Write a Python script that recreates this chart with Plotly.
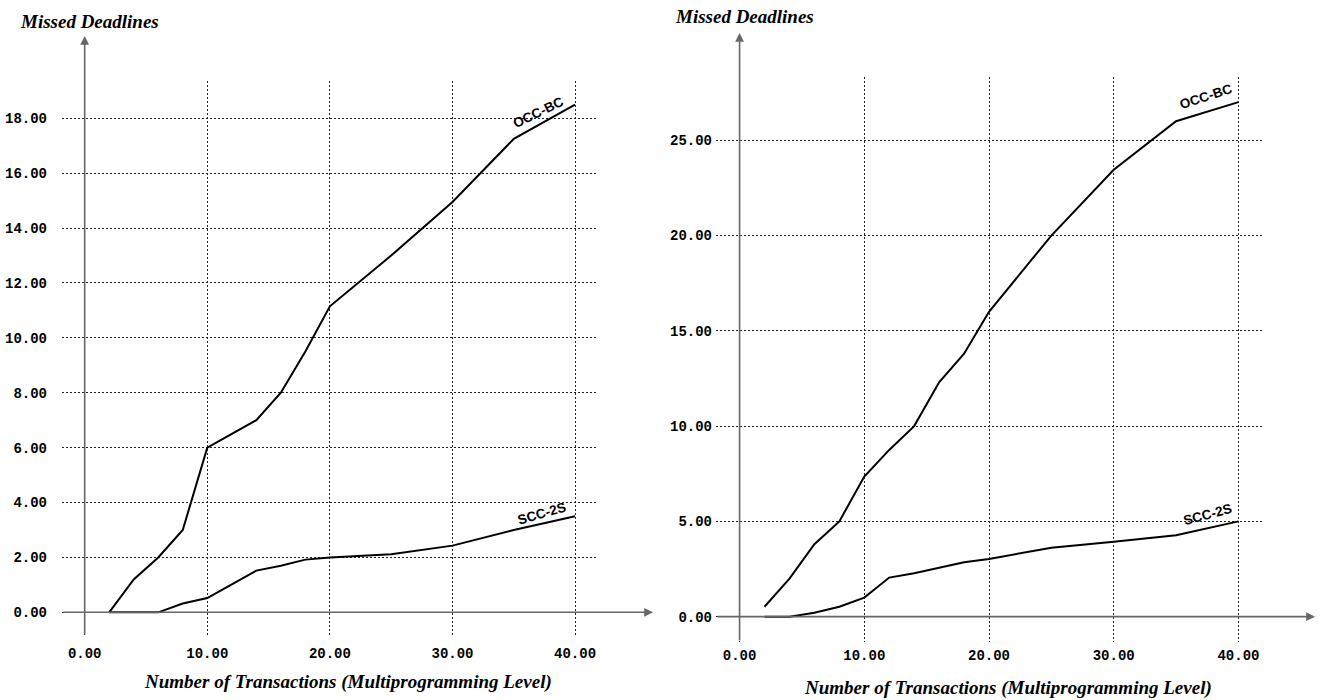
import plotly.graph_objects as go

# ---------------- data ----------------
mpl = [2, 4, 6, 8, 10, 12, 14, 16, 18, 20, 25, 30, 35, 40]

left_occ_bc = [0.0, 1.2, 2.0, 3.0, 6.0, 6.5, 7.0, 8.0, 9.5, 11.15, 13.0, 14.95, 17.25, 18.5]
left_scc_2s = [0.0, 0.0, 0.0, 0.32, 0.52, 1.02, 1.52, 1.7, 1.92, 2.0, 2.12, 2.43, 3.0, 3.5]

right_occ_bc = [0.52, 2.0, 3.8, 5.0, 7.35, 8.75, 10.0, 12.3, 13.8, 16.0, 20.0, 23.45, 26.0, 27.0]
right_scc_2s = [0.0, 0.0, 0.2, 0.52, 1.0, 2.05, 2.28, 2.55, 2.85, 3.03, 3.62, 3.93, 4.27, 5.0]

x_ticks = [0, 10, 20, 30, 40]
left_y_ticks = [0, 2, 4, 6, 8, 10, 12, 14, 16, 18]
right_y_ticks = [0, 5, 10, 15, 20, 25]

y_title = "Missed Deadlines"
x_title = "Number of Transactions (Multiprogramming Level)"

W, H = 1321, 700

fig = go.Figure()

line_style = dict(color="black", width=2)
fig.add_trace(go.Scatter(x=mpl, y=left_occ_bc, mode="lines", line=line_style,
                         xaxis="x", yaxis="y", showlegend=False, hoverinfo="skip"))
fig.add_trace(go.Scatter(x=mpl, y=left_scc_2s, mode="lines", line=line_style,
                         xaxis="x", yaxis="y", showlegend=False, hoverinfo="skip"))
fig.add_trace(go.Scatter(x=mpl, y=right_occ_bc, mode="lines", line=line_style,
                         xaxis="x2", yaxis="y2", showlegend=False, hoverinfo="skip"))
fig.add_trace(go.Scatter(x=mpl, y=right_scc_2s, mode="lines", line=line_style,
                         xaxis="x2", yaxis="y2", showlegend=False, hoverinfo="skip"))

tick_font = dict(family="Liberation Mono", size=14, color="black", weight="bold")
grid = dict(showgrid=True, gridcolor="#222222", gridwidth=1, griddash="2px,2px",
            zeroline=False, showline=False, ticks="", tickfont=tick_font,
            tickformat=".2f", fixedrange=True)


def px_x(p):
    return p / W


def px_y(p):
    return 1 - p / H


fig.update_layout(
    width=W, height=H,
    margin=dict(l=0, r=0, t=0, b=0),
    paper_bgcolor="white", plot_bgcolor="white",
    xaxis=dict(domain=[px_x(62), px_x(598)], range=[-1.85, 41.87],
               tickvals=x_ticks, anchor="y", ticklabelstandoff=7, **grid),
    yaxis=dict(domain=[px_y(636), px_y(81)], range=[-0.863, 19.36],
               tickvals=left_y_ticks, anchor="x", ticklabelstandoff=14, **grid),
    xaxis2=dict(domain=[px_x(716), px_x(1262)], range=[-1.89, 41.89],
                tickvals=x_ticks, anchor="y2", ticklabelstandoff=3, **grid),
    yaxis2=dict(domain=[px_y(642), px_y(77)], range=[-1.33, 28.32],
                tickvals=right_y_ticks, anchor="x2", ticklabelstandoff=3, **grid),
)

annotations = []
axis_col = "#666666"
# axis arrows (left chart)
annotations.append(dict(x=0, xref="x", y=px_y(36), yref="paper", ax=0, ay=600,
                        text="", showarrow=True, arrowhead=2, arrowsize=1.1,
                        arrowwidth=1.6, arrowcolor=axis_col, standoff=0, startstandoff=0))
annotations.append(dict(x=px_x(653), xref="paper", y=0, yref="y", ax=-591, ay=0,
                        text="", showarrow=True, arrowhead=2, arrowsize=1.1,
                        arrowwidth=1.6, arrowcolor=axis_col, standoff=0, startstandoff=0))
# axis arrows (right chart)
annotations.append(dict(x=0, xref="x2", y=px_y(33), yref="paper", ax=0, ay=609,
                        text="", showarrow=True, arrowhead=2, arrowsize=1.1,
                        arrowwidth=1.6, arrowcolor=axis_col, standoff=0, startstandoff=0))
annotations.append(dict(x=px_x(1315), xref="paper", y=0, yref="y2", ax=-599, ay=0,
                        text="", showarrow=True, arrowhead=2, arrowsize=1.1,
                        arrowwidth=1.6, arrowcolor=axis_col, standoff=0, startstandoff=0))

title_font = dict(family="Liberation Serif", size=19, color="black", weight="bold", style="italic")
annotations += [
    dict(x=px_x(89), y=px_y(21), xref="paper", yref="paper", text=y_title,
         showarrow=False, font=title_font, xanchor="center", yanchor="middle"),
    dict(x=px_x(744), y=px_y(16), xref="paper", yref="paper", text=y_title,
         showarrow=False, font=title_font, xanchor="center", yanchor="middle"),
    dict(x=px_x(348), y=px_y(682), xref="paper", yref="paper", text=x_title,
         showarrow=False, font=title_font, xanchor="center", yanchor="middle"),
    dict(x=px_x(1008), y=px_y(688), xref="paper", yref="paper", text=x_title,
         showarrow=False, font=title_font, xanchor="center", yanchor="middle"),
]

lab_font = dict(family="Liberation Sans", size=13.5, color="black", weight="bold")
annotations += [
    dict(x=36.97, y=18.23, xref="x", yref="y", text="OCC-BC", textangle=-26,
         showarrow=False, font=lab_font),
    dict(x=37.28, y=3.61, xref="x", yref="y", text="SCC-2S", textangle=-16,
         showarrow=False, font=lab_font),
    dict(x=37.4, y=27.28, xref="x2", yref="y2", text="OCC-BC", textangle=-18,
         showarrow=False, font=lab_font),
    dict(x=37.54, y=5.34, xref="x2", yref="y2", text="SCC-2S", textangle=-15,
         showarrow=False, font=lab_font),
]

fig.update_layout(annotations=annotations)

fig.write_html("out.html", config={"displayModeBar": False},
               post_script="document.body.style.margin='0px';")
